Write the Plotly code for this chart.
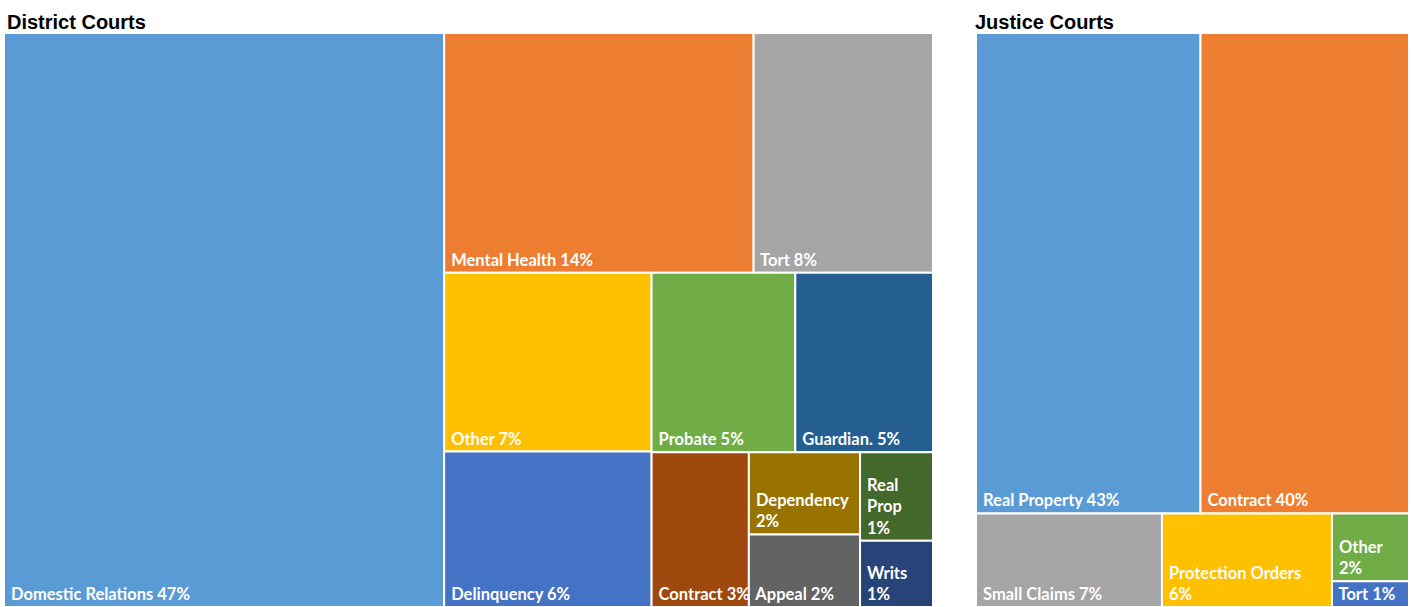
import plotly.graph_objects as go

# District Courts data
d_labels = ["Domestic Relations", "Mental Health", "Tort", "Other", "Delinquency",
            "Probate", "Guardian.", "Contract", "Dependency", "Appeal", "Real Prop", "Writs"]
d_values = [47.0, 13.8, 8.0, 6.9, 6.0, 4.8, 4.6, 2.8, 1.7, 1.5, 1.2, 0.9]
d_colors = ["#5B9BD5", "#ED7D31", "#A5A5A5", "#FFC000", "#4472C4", "#70AD47",
            "#255E91", "#9E480E", "#997300", "#636363", "#43682B", "#264478"]
d_display = ["Domestic Relations", "Mental Health", "Tort", "Other", "Delinquency",
             "Probate", "Guardian.", "Contract", "Dependency<br>", "Appeal", "Real<br>Prop<br>", "Writs<br>"]

# Justice Courts data
j_labels = ["Real Property", "Contract", "Small Claims", "Protection Orders", "Other", "Tort"]
j_values = [43.4, 40.3, 7.0, 6.4, 2.1, 0.8]
j_colors = ["#5B9BD5", "#ED7D31", "#A5A5A5", "#FFC000", "#70AD47", "#4472C4"]
j_display = ["Real Property", "Contract", "Small Claims", "Protection Orders<br>", "Other<br>", "Tort"]

W, H = 1414, 607
FS = 16.5
NB = "\u00a0"


def make_trace(root, labels, values, colors, display, x0, x1, y_top, ratio):
    ids = [root] + [root + "/" + l for l in labels]
    labs = [root] + labels
    parents = [""] + [root] * len(labels)
    vals = [0] + values
    cols = ["rgba(0,0,0,0)"] + colors
    tt = [""]
    for d in display:
        if d.endswith("<br>"):
            parts = d.split("<br>")[:-1]
            t = "<br>".join(NB + p for p in parts) + "<br>" + NB + "%{percentRoot:.0%}"
        else:
            t = NB + d + " %{percentRoot:.0%}"
        tt.append(t)
    return go.Treemap(
        ids=ids, labels=labs, parents=parents, values=vals,
        branchvalues="remainder",
        sort=True,
        marker=dict(colors=cols, line=dict(color="white", width=2),
                    pad=dict(t=0, l=0, r=0, b=0)),
        tiling=dict(packing="squarify", squarifyratio=ratio, pad=0),
        pathbar=dict(visible=False),
        texttemplate=tt,
        textposition="bottom left",
        textfont=dict(family="Lato, Open Sans, sans-serif", size=FS, color="white", weight="bold"),
        hoverinfo="label+value+percent root",
        domain=dict(x=[x0 / W, x1 / W], y=[0, (H - y_top) / H]),
    )


fig = go.Figure()
fig.add_trace(make_trace("District Courts", d_labels, d_values, d_colors, d_display, 4, 933, 33, 1))
fig.add_trace(make_trace("Justice Courts", j_labels, j_values, j_colors, j_display, 976, 1409, 33, 1.3))

fig.add_annotation(text="<b>District Courts</b>", x=5 / W, y=1 - 22 / H, xref="paper", yref="paper",
                   xanchor="left", yanchor="middle", showarrow=False,
                   font=dict(family="Liberation Sans, Arial, sans-serif", size=20, color="black"))
fig.add_annotation(text="<b>Justice Courts</b>", x=973 / W, y=1 - 22 / H, xref="paper", yref="paper",
                   xanchor="left", yanchor="middle", showarrow=False,
                   font=dict(family="Liberation Sans, Arial, sans-serif", size=20, color="black"))

fig.update_layout(
    width=W, height=H,
    margin=dict(l=0, r=0, t=0, b=0),
    paper_bgcolor="white",
    uniformtext=dict(minsize=FS, mode="show"),
    showlegend=False,
)

fig.write_html("out.html", config={"displayModeBar": False},
               post_script="document.body.style.margin='0';document.body.style.overflow='hidden';")
